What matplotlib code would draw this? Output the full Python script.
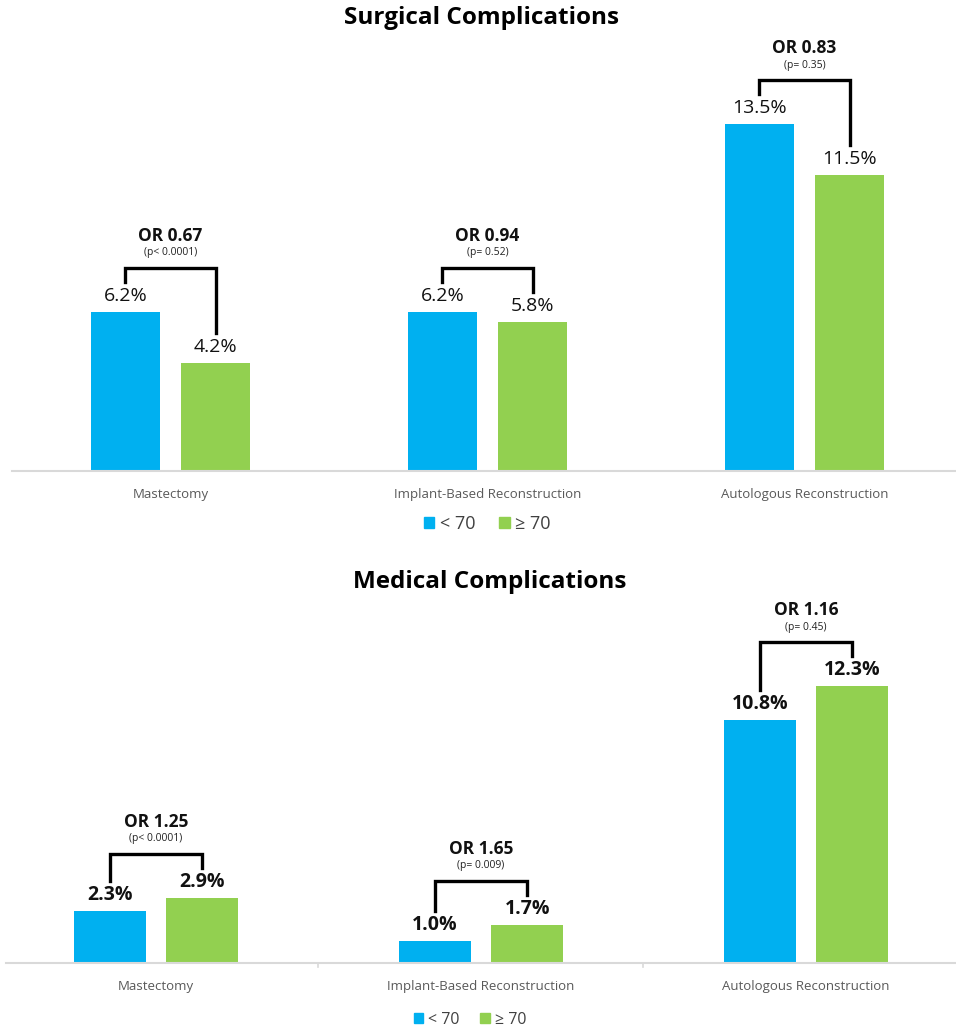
import matplotlib
matplotlib.use("Agg")
import matplotlib.pyplot as plt
from matplotlib.patches import Patch

plt.rcParams['font.family'] = ['Open Sans', 'DejaVu Sans']

categories = ["Mastectomy", "Implant-Based Reconstruction", "Autologous Reconstruction"]
groups = ["< 70", "\u2265 70"]

surg_under70 = [6.2, 6.2, 13.5]
surg_over70 = [4.2, 5.8, 11.5]
surg_or = ["OR 0.67", "OR 0.94", "OR 0.83"]
surg_p = ["(p< 0.0001)", "(p= 0.52)", "(p= 0.35)"]

med_under70 = [2.3, 1.0, 10.8]
med_over70 = [2.9, 1.7, 12.3]
med_or = ["OR 1.25", "OR 1.65", "OR 1.16"]
med_p = ["(p< 0.0001)", "(p= 0.009)", "(p= 0.45)"]

BLUE = "#00B0F0"
GREEN = "#92D050"
W, H = 956, 1032

fig = plt.figure(figsize=(W / 100, H / 100), dpi=100)


def make_axes(left_px, base_px, width_px, height_px):
    return fig.add_axes([left_px / W, (H - base_px) / H, width_px / W, height_px / H])


def panel(ax, a, b, ors, ps, ymax, xlim, bold_vals, ticks):
    ax.set_xlim(*xlim)
    ax.set_ylim(0, ymax)
    # px -> data units
    px = ymax / (ax.get_position().height * H)
    bw, off = 0.22, 0.142
    x = list(range(len(categories)))
    ax.bar([i - off for i in x], a, bw, color=BLUE)
    ax.bar([i + off for i in x], b, bw, color=GREEN)
    fw = "bold" if bold_vals else "normal"
    for i in x:
        for xx, v in [(i - off, a[i]), (i + off, b[i])]:
            ax.text(xx, v + 16 * px, f"{v:.1f}%", ha="center", va="center",
                    fontsize=14, fontweight=fw, color="#111111")
        top = max(a[i], b[i]) + 44 * px
        ax.plot([i - off, i - off, i + off, i + off],
                [a[i] + 30 * px, top, top, b[i] + 30 * px],
                color="black", lw=2.4, solid_joinstyle="miter", clip_on=False)
        ax.text(i, top + 15 * px, ps[i], ha="center", va="center", fontsize=7.5, color="#222222")
        ax.text(i, top + 32 * px, ors[i], ha="center", va="center", fontsize=12.5,
                fontweight="bold", color="#111111")
    for s in ["top", "left", "right"]:
        ax.spines[s].set_visible(False)
    ax.spines["bottom"].set_color("#d9d9d9")
    ax.spines["bottom"].set_linewidth(1.5)
    ax.set_yticks([])
    ax.set_xticks(x)
    ax.set_xticklabels(categories, fontsize=9.5, color="#595959")
    ax.tick_params(axis="x", length=0, pad=12)
    if ticks:
        for t in [0.5, 1.5]:
            ax.plot([t, t], [0, -4 * px], color="#d9d9d9", lw=1.2, clip_on=False)


ax1 = make_axes(12, 471, 944, 16 * 25.7)
panel(ax1, surg_under70, surg_over70, surg_or, surg_p, 16,
      (-0.5, -0.5 + 944 / 317), False, False)
ax2 = make_axes(6, 963, 950, 15 * 22.5)
panel(ax2, med_under70, med_over70, med_or, med_p, 15,
      (-0.4615, -0.4615 + 950 / 325), True, True)

fig.text(482 / W, 1 - 18 / H, "Surgical Complications", ha="center", va="center",
         fontsize=17.5, fontweight="bold")
fig.text(490 / W, 1 - 582 / H, "Medical Complications", ha="center", va="center",
         fontsize=17.5, fontweight="bold")

handles = [Patch(color=BLUE), Patch(color=GREEN)]
for cx, y, fs in [(487, 524, 13), (470, 1020, 11.5)]:
    fig.legend(handles, groups, loc="center", bbox_to_anchor=(cx / W, 1 - y / H),
               ncol=2, frameon=False, fontsize=fs, handlelength=0.6, handleheight=0.6,
               handletextpad=0.3, columnspacing=1.3, labelcolor="#404040")

fig.savefig("out.png", dpi=100)
